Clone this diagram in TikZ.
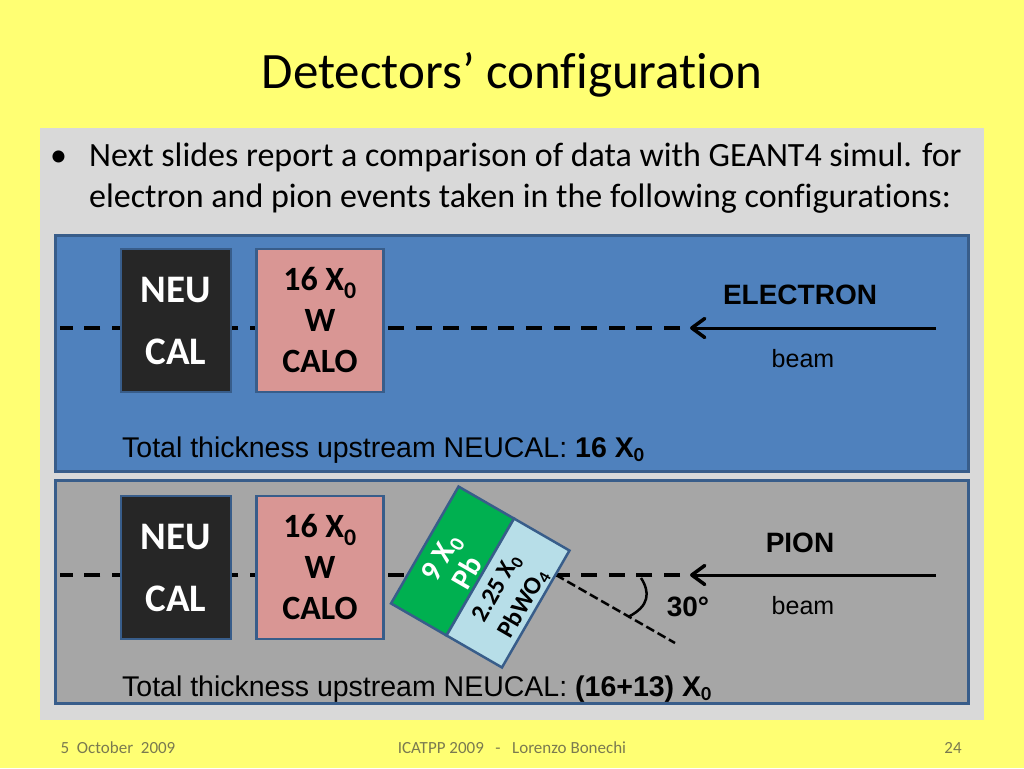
\documentclass[tikz,border=0pt]{standalone}
\usepackage{fontspec}
\setmainfont[Ligatures=NoCommon]{Carlito}
\newfontfamily\arialf{Liberation Sans}
\usetikzlibrary{arrows.meta}
\definecolor{bgy}{HTML}{FFFF73}
\definecolor{panel}{HTML}{D9D9D9}
\definecolor{bluep}{HTML}{4F81BD}
\definecolor{greyp}{HTML}{A6A6A6}
\definecolor{edgeb}{HTML}{385D8A}
\definecolor{darkb}{HTML}{262626}
\definecolor{pinkb}{HTML}{D99694}
\definecolor{greenb}{HTML}{00B050}
\definecolor{lightb}{HTML}{B7DEE8}
\definecolor{foot}{HTML}{7A7A50}
\newcommand{\fs}[1]{\fontsize{#1}{#1}\selectfont}
\tikzset{
 x=1pt,y=-1pt,
 band/.style={draw=edgeb,line width=2.5pt,inner sep=0pt,outer sep=0pt},
 det/.style={draw=edgeb,line width=2.5pt,inner sep=0pt,outer sep=0pt,align=center},
 neu/.style={det,fill=darkb,text=white,minimum width=110pt,minimum height=143pt,font=\fs{39}\bfseries},
 calo/.style={det,fill=pinkb,text=black,minimum width=127pt,minimum height=143pt,font=\fs{34}\bfseries},
 tilted/.style={det,rotate=60,minimum width=135pt,minimum height=64pt},
 tiltext/.style={rotate=60,inner sep=0pt,align=center},
 beamline/.style={line width=3pt,black},
 axisdash/.style={line width=4pt,black,dash pattern=on 16pt off 11.6pt,shorten <=10pt},
 arial/.style={font=\arialf\fs{28.5},text=black,inner sep=0pt,anchor=base west},
 beamlab/.style={font=\arialf\fs{25},inner sep=0pt},
 particle/.style={font=\arialf\bfseries\fs{28},inner sep=0pt},
 footer/.style={font=\fs{17},text=foot,inner sep=0pt},
 barb/.style={-{Straight Barb[length=13pt,width=19pt,line width=3.5pt,round]}},
}
\begin{document}
\begin{tikzpicture}
\useasboundingbox (0,0) rectangle (1024,768);
\fill[bgy] (0,0) rectangle (1024,768);
\fill[panel] (40,128) rectangle (984,720);
\node[font=\fs{51},inner sep=0pt] (title) at (512,75) {Detectors’ configuration};
\node[font=\fs{34},inner sep=0pt,anchor=base west] (bullet) at (50,166) {•};
\node[font=\fs{34},inner sep=0pt,anchor=base west] (l1) at (89,166) {Next slides report a comparison of data with GEANT4 simul. for};
\node[font=\fs{34},inner sep=0pt,anchor=base west] (l2) at (89,207) {electron and pion events taken in the following configurations:};
% bands
\node[band,fill=bluep,minimum width=913pt,minimum height=236pt] (bandA) at (512,353.5) {};
\node[band,fill=greyp,minimum width=913pt,minimum height=223pt] (bandB) at (512,592) {};
% electron
\coordinate (aL) at (60,328);
\coordinate (aM) at (690,328);
\coordinate (aR) at (936,328);
\draw[axisdash] (aM) -- (aL);
\draw[beamline,barb] (aR) -- (aM);
\node[neu] (neuA) at (176,320.5) {NEU\\[23pt]CAL};
\node[calo] (caloA) at (320,320.5) {16 X$_{\mathbf 0}$\\[7pt]W\\[7pt]CALO};
\node[particle] (eLab) at (800,295) {ELECTRON};
\node[beamlab] (eBeam) at (803,359) {beam};
\node[arial] (tA) at (122,457) {Total thickness upstream NEUCAL: {\bfseries 16 X$_{\mathbf 0}$}};
% pion
\coordinate (bL) at (60,575);
\coordinate (bM) at (690,575);
\coordinate (bR) at (936,575);
\coordinate (bV) at (556,575);
\coordinate (bT) at (675,643);
\coordinate (arcA) at (641,578);
\coordinate (arcB) at (628,617);
\draw[axisdash] (bM) -- (bL);
\draw[beamline,barb] (bR) -- (bM);
\draw[line width=2.5pt,black,dash pattern=on 9pt off 4pt] (bV) -- (bT);
\draw[line width=2.5pt,black] (arcA) .. controls (650,592) and (650,606) .. (arcB);
\node[neu] (neuB) at (176,567.5) {NEU\\[23pt]CAL};
\node[calo] (caloB) at (320,567.5) {16 X$_{\mathbf 0}$\\[7pt]W\\[7pt]CALO};
\node[tilted,fill=greenb] (pb) at (452.5,561) {};
\node[tilted,fill=lightb] (pbwo) at (508,593) {};
\node[tiltext,text=white,font=\fontsize{30}{31}\selectfont\bfseries] (pbT) at (454,565) {9 X$_{\mathbf 0}$\\Pb};
\node[tiltext,text=black,font=\fontsize{25}{31}\selectfont\bfseries] (pbwoT) at (510.8,596) {2.25 X$_{\mathbf 0}$\\PbWO$_{\mathbf 4}$};
\node[particle] (pLab) at (800,543) {PION};
\node[beamlab] (pBeam) at (803,606) {beam};
\node[particle] (ang) at (688,607) {30°};
\node[arial] (tB) at (122,696) {Total thickness upstream NEUCAL: {\bfseries (16+13) X$_{\mathbf 0}$}};
% footer
\node[footer] (f1) at (118,748) {5\ \ October\ \ 2009};
\node[footer] (f2) at (512,748) {ICATPP 2009\ \ \ -\ \ \ Lorenzo Bonechi};
\node[footer] (f3) at (953,748) {24};
\end{tikzpicture}
\end{document}
